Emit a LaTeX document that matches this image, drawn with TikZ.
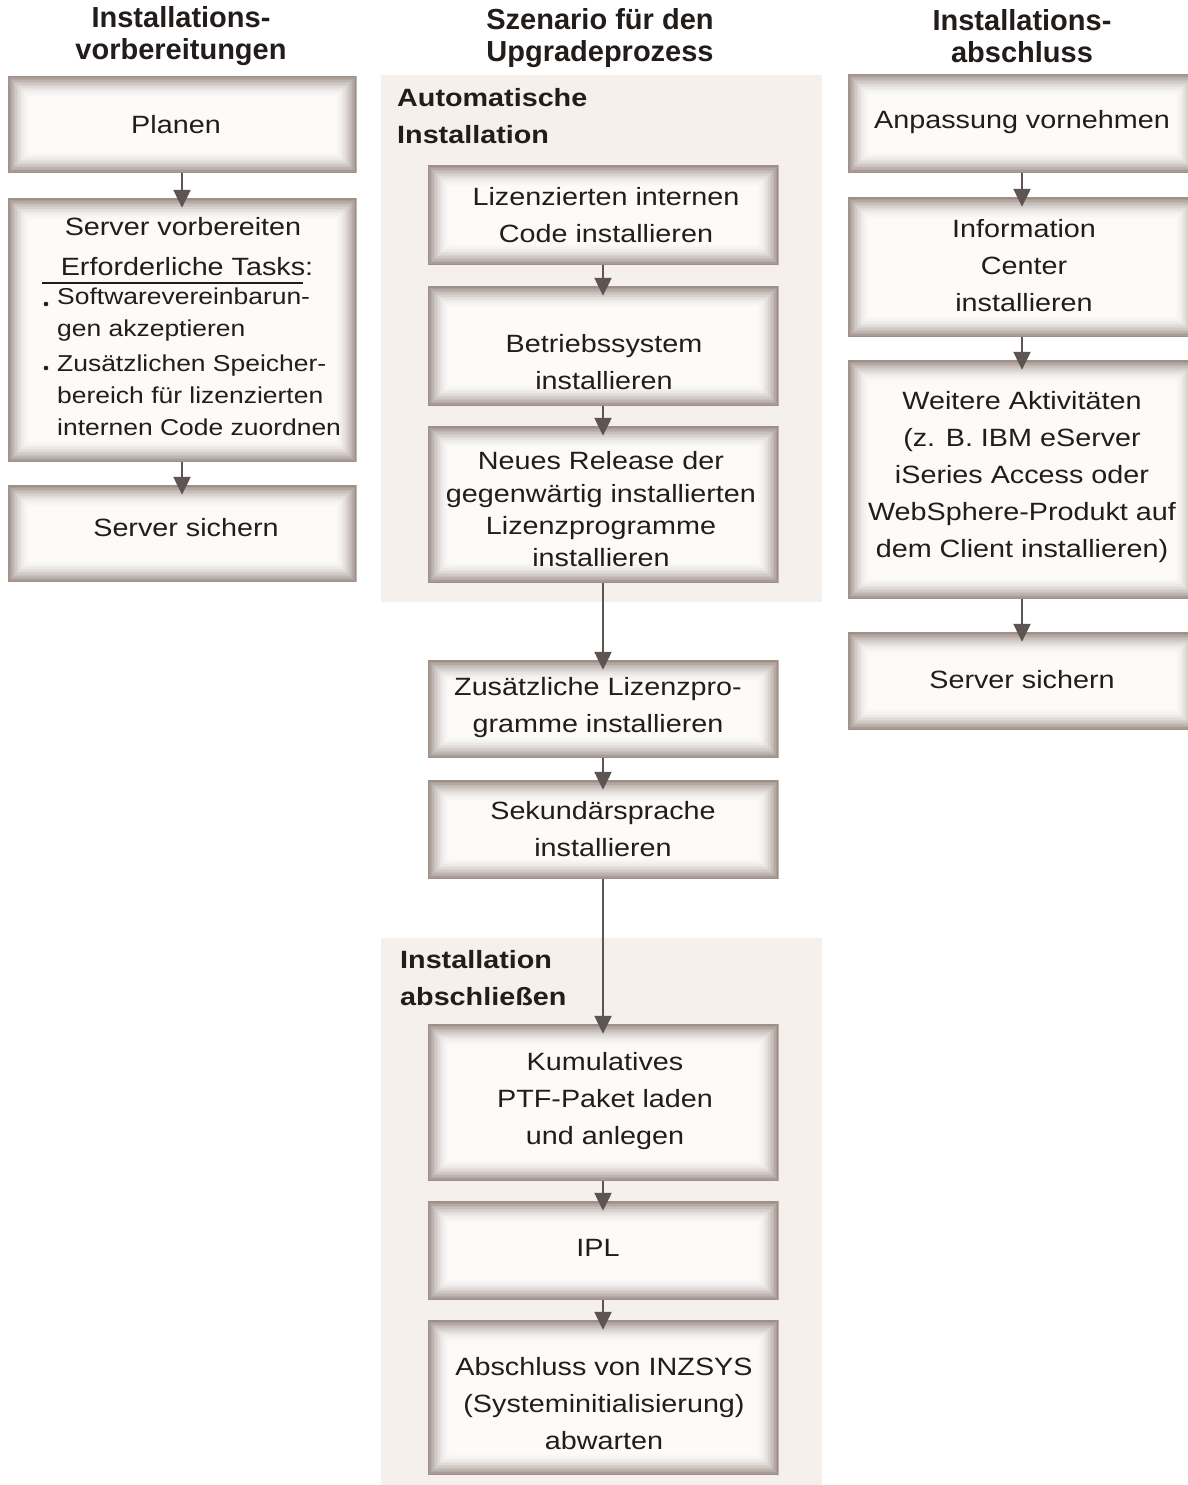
\documentclass[tikz,border=0pt]{standalone}
\usepackage{fontspec}
\setmainfont{Liberation Sans}[FakeStretch=1.15]
\newfontfamily\hdfont{Liberation Sans}
\usetikzlibrary{arrows.meta}
\definecolor{panelbg}{HTML}{F5F0EB}
\definecolor{edgec}{HTML}{9E8F89}
\definecolor{arrc}{HTML}{5E5553}
\definecolor{txtc}{HTML}{221C1B}
\definecolor{innerc}{HTML}{FCFBFA}
\tikzset{
  glowbox/.style={rectangle, inner sep=0pt, minimum width=349pt,
    path picture={
      \fill[edgec] (path picture bounding box.south west) rectangle (path picture bounding box.north east);
      \foreach \d/\p in {1.5/88,3/76,4.5/65,6/55,7.5/46,9/38,10.5/30,12/23,13.5/17,15/12,16.5/8,18/5,19.5/2}{
        \fill[edgec!\p!innerc] ([shift={(\d pt,\d pt)}]path picture bounding box.south west) rectangle ([shift={(-\d pt,-\d pt)}]path picture bounding box.north east);
      }
      \fill[innerc] ([shift={(21pt,21pt)}]path picture bounding box.south west) rectangle ([shift={(-21pt,-21pt)}]path picture bounding box.north east);
    }},
  txt/.style={align=center, text=txtc, inner sep=0pt, font=\fontsize{25}{37}\selectfont},
  smalltxt/.style={align=left, text=txtc, inner sep=0pt, anchor=west, font=\fontsize{23}{32}\selectfont},
  hdr/.style={align=center, text=txtc, inner sep=0pt, font=\hdfont\bfseries\fontsize{29}{32}\selectfont},
  lbl/.style={align=left, anchor=west, text=txtc, inner sep=0pt, font=\bfseries\fontsize{25}{37}\selectfont},
  arr/.style={draw=arrc, line width=2.3pt, -{Triangle[width=17pt,length=18pt]}, shorten >=-10pt},
  panel/.style={fill=panelbg, draw=none}
}
\begin{document}
\begin{tikzpicture}[x=1pt,y=-1pt]
\useasboundingbox (0,0) rectangle (1188,1485);
\fill[white] (0,0) rectangle (1188,1485);

% panels
\fill[panel] (381,75) rectangle (822,602);
\fill[panel] (381,938) rectangle (822,1485);

% headers
\node[hdr] (h1) at (181,36) {Installations-\\vorbereitungen};
\node[hdr] (h2) at (600,38.5) {Szenario für den\\Upgradeprozess};
\node[hdr] (h3) at (1022,36) {Installations-\\abschluss};

\node[lbl] (l1) at (397,116.5) {Automatische\\Installation};
\node[lbl] (l2) at (400,978.5) {Installation\\abschließen};

% left column
\node[glowbox, minimum height=97pt] (plan) at (182,124.5) {};
\node[glowbox, minimum height=264pt] (prep) at (182,330) {};
\node[glowbox, minimum height=97pt] (save1) at (182,533.5) {};

% middle column
\node[glowbox, minimum width=351pt, minimum height=100pt] (lic) at (603,215) {};
\node[glowbox, minimum width=351pt, minimum height=120pt] (os) at (603,346) {};
\node[glowbox, minimum width=351pt, minimum height=157pt] (rel) at (603,504.5) {};
\node[glowbox, minimum width=351pt, minimum height=98pt] (add) at (603,709) {};
\node[glowbox, minimum width=351pt, minimum height=99pt] (sec) at (603,829.5) {};
\node[glowbox, minimum width=351pt, minimum height=157pt] (ptf) at (603,1102.5) {};
\node[glowbox, minimum width=351pt, minimum height=99pt] (ipl) at (603,1250.5) {};
\node[glowbox, minimum width=351pt, minimum height=155pt] (inz) at (603,1397.5) {};

% right column
\node[glowbox, minimum height=99pt] (anp) at (1022,123.5) {};
\node[glowbox, minimum height=140pt] (info) at (1022,267) {};
\node[glowbox, minimum height=239pt] (more) at (1022,479.5) {};
\node[glowbox, minimum height=98pt] (save2) at (1022,681) {};

% texts left
\node[txt] (t-plan) at (176,125) {Planen};
\node[txt] (t-prep1) at (183,227) {Server vorbereiten};
\node[txt] (t-prep2) at (187,267) {Erforderliche Tasks:};
\draw[txtc, line width=1.4pt] (42,283) -- (303,283);
\node[smalltxt] (t-it1) at (57,315) {Softwarevereinbarun-\\gen akzeptieren};
\node[smalltxt] (t-it2) at (57,395) {Zusätzlichen Speicher-\\bereich für lizenzierten\\internen Code zuordnen};
\fill[txtc] (46,304) circle (2.3);
\fill[txtc] (46,368) circle (2.3);
\node[txt] (t-save1) at (186,528) {Server sichern};

% texts middle
\node[txt] (t-lic) at (606,215.5) {Lizenzierten internen\\Code installieren};
\node[txt] (t-os) at (604,362.5) {Betriebssystem\\installieren};
\node[txt, font=\fontsize{25}{32.3}\selectfont] (t-rel) at (601,509.5) {Neues Release der\\gegenwärtig installierten\\Lizenzprogramme\\installieren};
\node[txt] (t-add) at (598,707.5) {Zusätzliche Lizenzpro-\\gramme installieren};
\node[txt] (t-sec) at (603,829.5) {Sekundärsprache\\installieren};
\node[txt] (t-ptf) at (605,1101.5) {Kumulatives\\PTF-Paket laden\\und anlegen};
\node[txt] (t-ipl) at (598,1248) {IPL};
\node[txt] (t-inz) at (604,1403.5) {Abschluss von INZSYS\\(Systeminitialisierung)\\abwarten};

% texts right
\node[txt] (t-anp) at (1022,122) {Anpassung vornehmen};
\node[txt] (t-info) at (1024,266) {Information\\Center\\installieren};
\node[txt] (t-more) at (1022,477) {Weitere Aktivitäten\\(z. B. IBM eServer\\iSeries Access oder\\WebSphere-Produkt auf\\dem Client installieren)};
\node[txt] (t-save2) at (1022,680) {Server sichern};

% arrows
\draw[arr] (plan.south) -- (prep.north);
\draw[arr] (prep.south) -- (save1.north);
\draw[arr] (lic.south) -- (os.north);
\draw[arr] (os.south) -- (rel.north);
\draw[arr] (rel.south) -- (add.north);
\draw[arr] (add.south) -- (sec.north);
\draw[arr] (sec.south) -- (ptf.north);
\draw[arr] (ptf.south) -- (ipl.north);
\draw[arr] (ipl.south) -- (inz.north);
\draw[arr] (anp.south) -- (info.north);
\draw[arr] (info.south) -- (more.north);
\draw[arr] (more.south) -- (save2.north);
\end{tikzpicture}
\end{document}
